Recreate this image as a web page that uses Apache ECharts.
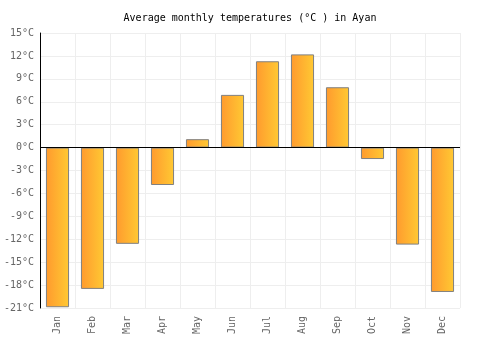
<!DOCTYPE html>
<html><head><meta charset="utf-8">
<script src="https://cdn.jsdelivr.net/npm/echarts@6/dist/echarts.min.js"></script>
<style>html,body{margin:0;padding:0;background:#fff}#c{width:500px;height:350px}</style>
</head><body><div id="c"></div>
<script>
var months = ['Jan','Feb','Mar','Apr','May','Jun','Jul','Aug','Sep','Oct','Nov','Dec'];
var temps = [-20.9, -18.5, -12.6, -4.9, 1.1, 6.9, 11.3, 12.2, 7.9, -1.5, -12.7, -18.9];
var yMin = -21, yMax = 15, yStep = 3;
var font = 'DejaVu Sans Mono';
var chart = echarts.init(document.getElementById('c'));
chart.setOption({
  animation: false,
  title: {text: 'Average monthly temperatures (°C ) in Ayan', left: 'center', top: 8,
    textStyle: {fontFamily: font, fontSize: 10, fontWeight: 'normal', color: '#000'}},
  grid: {left: 40, right: 40, top: 33, bottom: 42},
  xAxis: {type: 'category', data: months,
    axisLine: {show: false}, axisTick: {show: false},
    axisLabel: {rotate: 90, fontFamily: font, fontSize: 10, color: '#666', margin: 8},
    splitLine: {show: true, interval: 0, lineStyle: {color: '#eeeeee'}}},
  yAxis: {type: 'value', min: yMin, max: yMax, interval: yStep,
    axisLine: {show: true, lineStyle: {color: '#000'}}, axisTick: {show: false},
    axisLabel: {formatter: '{value}°C', fontFamily: font, fontSize: 10, color: '#666', margin: 6},
    splitLine: {lineStyle: {color: '#eeeeee'}}},
  series: [{type: 'bar', data: temps, barWidth: '66%',
    itemStyle: {borderColor: '#808080', borderWidth: 1,
      color: new echarts.graphic.LinearGradient(0, 0, 1, 0, [{offset: 0, color: '#ff9a2e'}, {offset: 1, color: '#ffc933'}])},
    markLine: {silent: true, symbol: 'none', label: {show: false},
      lineStyle: {color: '#000', type: 'solid', width: 1}, data: [{yAxis: 0}]}}]
});
</script></body></html>
